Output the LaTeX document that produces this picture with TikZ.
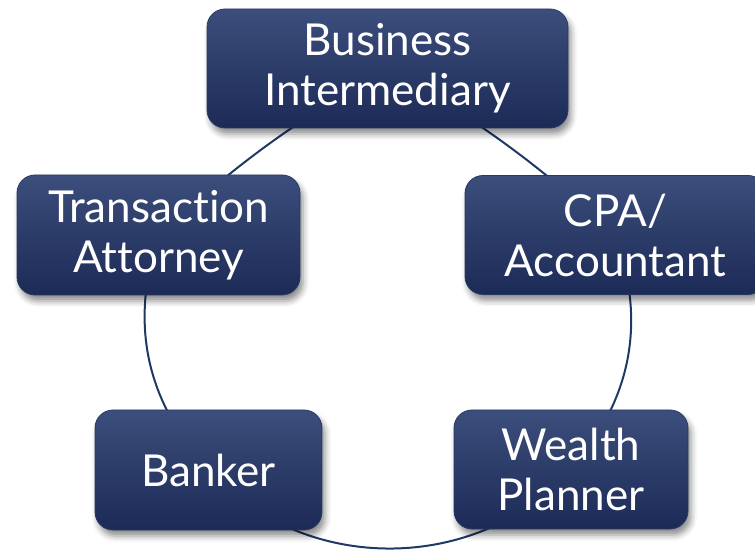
\documentclass[tikz,border=0pt]{standalone}
\usepackage{fontspec}
\setmainfont{Lato}[Ligatures={NoCommon}]
\usetikzlibrary{shadows.blur,backgrounds}
\definecolor{linecol}{RGB}{31,56,100}
\definecolor{boxtop}{RGB}{60,78,124}
\definecolor{boxbot}{RGB}{28,42,86}
\definecolor{boxedge}{RGB}{40,56,100}
\begin{document}
\begin{tikzpicture}[x=1pt,y=1pt,
  role/.style={rectangle, rounded corners=18pt, top color=boxtop, bottom color=boxbot,
    draw=boxedge, line width=0.8pt, text=white, align=center,
    font=\fontsize{44}{50}\selectfont, inner sep=0pt,
    blur shadow={shadow xshift=3pt, shadow yshift=-6pt, shadow blur radius=6pt, shadow opacity=45}},
  link/.style={draw=linecol, line width=2pt}]
\useasboundingbox (0,0) rectangle (755,549);
\node[role, minimum width=361pt, minimum height=119pt] (bi) at (387.5,480.5) {Business\\Intermediary};
\node[role, minimum width=283pt, minimum height=120pt] (ta) at (158.5,314) {Transaction\\Attorney};
\node[role, minimum width=301pt, minimum height=119pt] (cpa) at (615.5,314) {CPA/\\Accountant};
\node[role, minimum width=227pt, minimum height=120pt] (bk) at (208.5,79) {Banker};
\node[role, minimum width=234pt, minimum height=119pt] (wp) at (571,79.5) {Wealth\\Planner};
\begin{scope}[on background layer]
\draw[link] (bi.center) to[bend right=6] (ta.center);
\draw[link] (ta.center) to[bend right=30] (bk.center);
\draw[link] (bk.center) to[bend right=48] (wp.center);
\draw[link] (wp.center) to[bend right=30] (cpa.center);
\draw[link] (cpa.center) to[bend right=6] (bi.center);
\end{scope}
\end{tikzpicture}
\end{document}
